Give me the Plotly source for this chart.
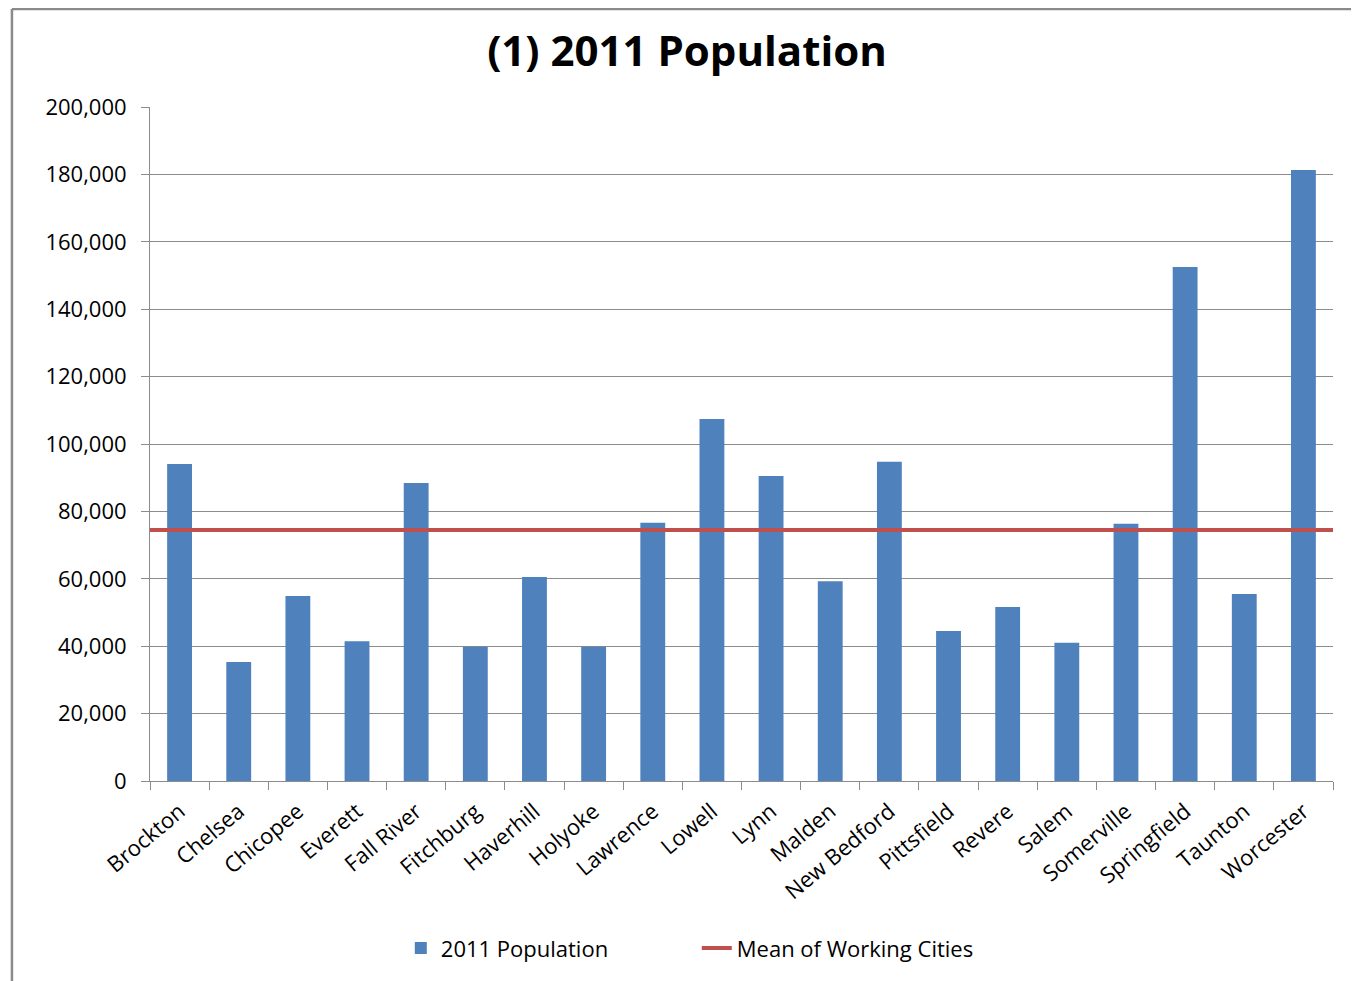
import plotly.graph_objects as go

# City populations, 2011
cities = ['Brockton', 'Chelsea', 'Chicopee', 'Everett', 'Fall River',
          'Fitchburg', 'Haverhill', 'Holyoke', 'Lawrence', 'Lowell',
          'Lynn', 'Malden', 'New Bedford', 'Pittsfield', 'Revere',
          'Salem', 'Somerville', 'Springfield', 'Taunton', 'Worcester']
population = [94100, 35300, 54900, 41500, 88400,
              39800, 60500, 39800, 76600, 107400,
              90500, 59300, 94700, 44500, 51600,
              41000, 76300, 152500, 55500, 181300]
mean_working = 74500
y_ticks = [0, 20000, 40000, 60000, 80000, 100000,
           120000, 140000, 160000, 180000, 200000]

BAR_COLOR = '#4F81BD'
LINE_COLOR = '#C0504D'
GRID = '#8C8C8C'
FONT = 'Open Sans'

fig = go.Figure()

fig.add_trace(
    go.Bar(x=cities,
           y=population,
           name='2011 Population',
           marker=dict(color=BAR_COLOR, line=dict(width=0))))

# mean line spans the whole plot width on a hidden linear axis
fig.add_trace(
    go.Scatter(x=[0, 1],
               y=[mean_working, mean_working],
               xaxis='x2',
               mode='lines',
               name='Mean of Working Cities',
               line=dict(color=LINE_COLOR, width=4)))

# the page body adds an 8px offset, so the figure is a bit smaller
fig.update_layout(
    width=1351,
    height=973,
    margin=dict(l=142, r=26, t=99, b=200),
    paper_bgcolor='white',
    plot_bgcolor='white',
    font=dict(family=FONT, size=22, color='#000000'),
    title=dict(text='<b>(1) 2011 Population</b>',
               font=dict(family=FONT, size=42, color='#000000'),
               x=0.5026, xanchor='center', y=0.955, yanchor='middle'),
    bargap=0.58,
    showlegend=True,
    legend=dict(orientation='h',
                x=0.212, xanchor='left',
                y=-0.248, yanchor='middle',
                font=dict(family=FONT, size=22),
                entrywidth=251,
                entrywidthmode='pixels',
                tracegroupgap=0),
    xaxis=dict(type='category',
               tickangle=-40,
               tickson='boundaries',
               ticks='outside',
               ticklen=8,
               tickcolor=GRID,
               showline=True,
               linecolor=GRID,
               linewidth=1,
               showgrid=False,
               ticklabelstandoff=8,
               tickfont=dict(family=FONT, size=22)),
    xaxis2=dict(range=[0, 1],
                overlaying='x',
                visible=False,
                fixedrange=True),
    yaxis=dict(range=[0, 200000],
               tickvals=y_ticks,
               tickformat=',d',
               ticks='outside',
               ticklen=8,
               tickcolor=GRID,
               showline=True,
               linecolor=GRID,
               linewidth=1,
               showgrid=True,
               gridcolor=GRID,
               gridwidth=1,
               zeroline=False,
               ticklabelstandoff=10,
               tickfont=dict(family=FONT, size=22)),
    shapes=[
        # outer chart frame (top and left edges visible in the reference)
        dict(type='line', xref='paper', yref='paper',
             x0=-0.1167, x1=1.03, y0=1.1454, y1=1.1454,
             line=dict(color='#8A8A8A', width=2.5)),
        dict(type='line', xref='paper', yref='paper',
             x0=-0.1167, x1=-0.1167, y0=1.1454, y1=-0.32,
             line=dict(color='#8A8A8A', width=2.5)),
    ])

fig.write_html("out.html")
